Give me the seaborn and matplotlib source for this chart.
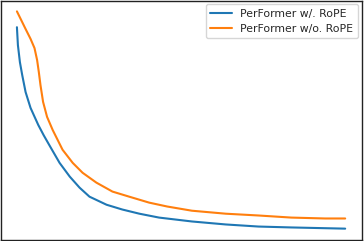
import matplotlib
matplotlib.use("Agg")
import matplotlib.pyplot as plt
import seaborn as sns
import pandas as pd

sns.set_style("white")
plt.rcParams['font.family'] = ['DejaVu Sans']

steps_with = [0, 0.30, 0.91, 1.61, 2.64, 4.15, 6.5, 8.18, 10.0, 13.0, 16.1, 19.1, 22.1, 27.3,
              32.1, 37.3, 43.3, 53.3, 63.6, 73.6, 83.6, 100]
loss_with = [7.07, 6.47, 5.90, 5.47, 4.90, 4.37, 3.80, 3.45, 3.10, 2.53, 2.07, 1.70, 1.40, 1.13,
             0.97, 0.83, 0.70, 0.57, 0.47, 0.40, 0.37, 0.33]

steps_without = [0, 1.12, 2.64, 4.15, 5.36, 6.15, 6.67, 7.18, 7.97, 9.18, 10.9, 13.9, 17.0, 20.0,
                 24.2, 29.1, 34.2, 40.3, 45.8, 53.3, 63.6, 73.6, 83.6, 93.9, 100]
loss_without = [7.60, 7.35, 7.01, 6.68, 6.37, 5.97, 5.57, 5.13, 4.57, 4.07, 3.63, 2.97, 2.53, 2.20,
                1.87, 1.57, 1.40, 1.20, 1.07, 0.93, 0.83, 0.77, 0.70, 0.67, 0.67]

labels = ["PerFormer w/. RoPE", "PerFormer w/o. RoPE"]

df = pd.concat([
    pd.DataFrame({"step": steps_with, "loss": loss_with, "model": labels[0]}),
    pd.DataFrame({"step": steps_without, "loss": loss_without, "model": labels[1]}),
])

fig = plt.figure(figsize=(3.64, 2.41), dpi=100)
ax = fig.add_axes([0.0014, 0.0062, 0.992, 0.9917])
sns.lineplot(data=df, x="step", y="loss", hue="model", hue_order=labels,
             palette=["#1f77b4", "#ff7f0e"], linewidth=1.5, ax=ax, sort=False)
ax.set_xlabel("")
ax.set_ylabel("")
ax.set_xticks([])
ax.set_yticks([])
ax.margins(x=0.05, y=0.05)
for s in ax.spines.values():
    s.set_color("#222222")
    s.set_linewidth(1.0)
leg = ax.legend(loc="upper right", fontsize=7.8, frameon=True, borderaxespad=0.35)
leg.get_frame().set_edgecolor("#cccccc")
fig.savefig("out.png", dpi=100)
